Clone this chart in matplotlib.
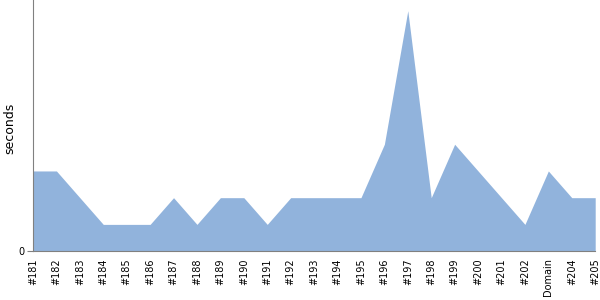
import matplotlib
matplotlib.use('Agg')
import matplotlib.pyplot as plt

labels = ['#181', '#182', '#183', '#184', '#185', '#186', '#187', '#188', '#189',
          '#190', '#191', '#192', '#193', '#194', '#195', '#196', '#197', '#198',
          '#199', '#200', '#201', '#202', 'Domain', '#204', '#205']
seconds = [3, 3, 2, 1, 1, 1, 2, 1, 2, 2, 1, 2, 2, 2, 2, 4, 9, 2, 4, 3, 2, 1, 3, 2, 2]

fig = plt.figure(figsize=(6, 3), dpi=100)
ax = fig.add_axes([0.055, 0.163, 0.937, 0.837])

x = list(range(len(labels)))
ax.fill_between(x, 0, seconds, color='#91b3dc', linewidth=0)

ax.set_xlim(0, len(labels) - 1)
ax.set_ylim(0, 9.4)
ax.set_xticks(x)
ax.set_xticklabels(labels, rotation=90, fontsize=7)
ax.set_yticks([0])
ax.set_yticklabels(['0'], fontsize=7)
ax.set_ylabel('seconds', fontsize=9)
ax.yaxis.set_label_coords(-0.03, 0.49)

for s in ['top', 'right']:
    ax.spines[s].set_visible(False)
for s in ['left', 'bottom']:
    ax.spines[s].set_color('#808080')
ax.tick_params(axis='y', length=4, color='#808080', pad=2)
ax.tick_params(axis='x', length=0, pad=5)

fig.savefig('out.png', dpi=100)
